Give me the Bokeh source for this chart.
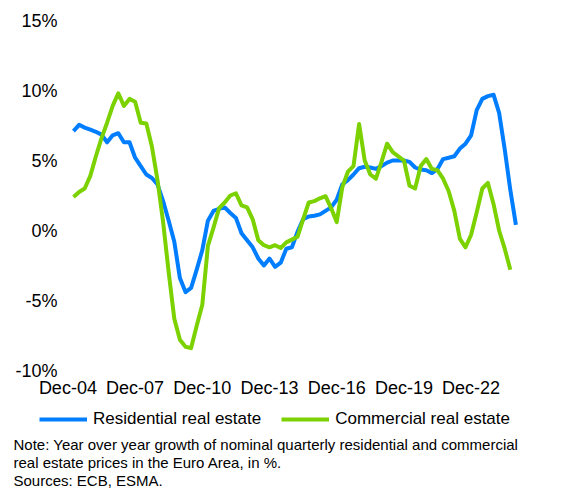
from bokeh.plotting import figure
from bokeh.models import FixedTicker, Legend, LegendItem, Label, Range1d
from bokeh.layouts import column
from bokeh.embed import file_html
from bokeh.resources import INLINE

# Year-over-year growth, %, quarterly (first point = 2005Q1)
residential = [7.1, 7.55, 7.35, 7.2, 7.05, 6.85, 6.3, 6.8, 6.95, 6.3,
               6.3, 5.2, 4.6, 4.0, 3.75, 3.3, 2.1, 0.7, -0.8, -3.4,
               -4.4, -4.1, -2.8, -1.4, 0.7, 1.4, 1.55, 1.65, 1.25, 0.9,
               -0.2, -0.7, -1.2, -2.0, -2.5, -2.0, -2.6, -2.3, -1.3, -1.2,
               -0.1, 0.8, 1.0, 1.05, 1.15, 1.4, 1.65, 2.2, 3.3, 3.6,
               4.0, 4.45, 4.55, 4.5, 4.4, 4.6, 4.85, 5.0, 5.0, 5.0,
               4.9, 4.5, 4.35, 4.3, 4.1, 4.4, 5.1, 5.2, 5.3, 5.85,
               6.2, 6.8, 8.6, 9.4, 9.6, 9.7, 8.4, 5.8, 2.9, 0.4]
commercial = [2.4, 2.75, 3.0, 3.9, 5.3, 6.6, 7.7, 8.9, 9.8, 8.9,
              9.4, 9.2, 7.7, 7.65, 6.0, 3.6, 0.6, -3.0, -6.3, -7.8,
              -8.3, -8.4, -6.8, -5.3, -1.1, 0.2, 1.6, 2.0, 2.5, 2.65,
              1.8, 1.65, 0.8, -0.7, -1.05, -1.2, -1.05, -1.25, -0.85, -0.65,
              -0.45, 0.8, 2.0, 2.1, 2.3, 2.45, 1.6, 0.6, 3.1, 4.2,
              4.6, 7.6, 5.0, 4.0, 3.7, 4.9, 6.2, 5.6, 5.3, 5.0,
              3.2, 3.0, 4.6, 5.1, 4.4, 4.3, 3.7, 2.8, 1.4, -0.6,
              -1.2, -0.3, 1.3, 3.0, 3.4, 1.9, 0.0, -1.3, -2.8]
first_year = 2005
x_labels = ["Dec-04", "Dec-07", "Dec-10", "Dec-13", "Dec-16", "Dec-19", "Dec-22"]
y_ticks = [-10, -5, 0, 5, 10, 15]
y_labels = ["-10%", "-5%", "0%", "5%", "10%", "15%"]
series_names = ["Residential real estate", "Commercial real estate"]
series_colors = ["#007EFF", "#7BD200"]
note_lines = [
    "Note: Year over year growth of nominal quarterly residential and commercial",
    "real estate prices in the Euro Area, in %.",
    "Sources: ECB, ESMA.",
]

FONT = "Liberation Sans"
NAN = float("nan")

x_res = list(range(len(residential)))
x_com = list(range(len(commercial)))
# quarter index of each December label (index 0 = Q1 of first_year)
x_tick_pos = [(2000 + int(lab[-2:]) - first_year) * 4 + 3 for lab in x_labels]

# ---- main chart -----------------------------------------------------------
p = figure(width=566, height=400, output_backend="svg", toolbar_location=None,
           x_range=Range1d(-1.786, 83.39), y_range=Range1d(-10, 15),
           min_border_left=63, min_border_right=26, min_border_top=20,
           min_border_bottom=30)
p.outline_line_color = None
p.grid.visible = False
p.frame_align = False

for xs, ys, c in ((x_res, residential, series_colors[0]),
                  (x_com, commercial, series_colors[1])):
    p.line(xs, ys, line_color=c, line_width=4, line_join="round")

for ax in (p.xaxis[0], p.yaxis[0]):
    ax.axis_line_color = None
    ax.major_tick_line_color = None
    ax.minor_tick_line_color = None
    ax.major_tick_out = 0
    ax.major_tick_in = 0
    ax.minor_tick_out = 0
    ax.major_label_text_font = FONT
    ax.major_label_text_font_size = "18px"
    ax.major_label_text_color = "#000000"

p.xaxis.ticker = FixedTicker(ticks=x_tick_pos)
p.xaxis.major_label_overrides = {t: l for t, l in zip(x_tick_pos, x_labels)}
p.xaxis.major_label_standoff = 7
p.yaxis.ticker = FixedTicker(ticks=y_ticks)
p.yaxis.major_label_overrides = {t: l for t, l in zip(y_ticks, y_labels)}
p.yaxis.major_label_standoff = 6

# ---- footer: legend and notes ---------------------------------------------
f = figure(width=566, height=90, output_backend="svg", toolbar_location=None,
           x_range=Range1d(0, 566), y_range=Range1d(0, 90),
           x_axis_type=None, y_axis_type=None, min_border=0)
f.outline_line_color = None
f.grid.visible = False
f.frame_align = False

items = []
for name, c in zip(series_names, series_colors):
    r = f.line([NAN], [NAN], line_color=c, line_width=4)
    items.append(LegendItem(label=name, renderers=[r]))

legend = Legend(items=items, location=(39, 61), orientation="horizontal",
                glyph_width=48, glyph_height=20, label_standoff=6, spacing=20,
                padding=0, margin=0, border_line_alpha=0,
                background_fill_alpha=0, label_text_font=FONT,
                label_text_font_size="17px", label_text_color="#000000")
f.add_layout(legend)

for k, line in enumerate(note_lines):
    f.add_layout(Label(x=13, y=46 - 18 * k, x_units="screen", y_units="screen",
                       text=line, text_font=FONT, text_font_size="15px",
                       text_baseline="middle", text_color="#000000"))

open("out.html", "w").write(file_html(column(p, f, spacing=0), INLINE))
